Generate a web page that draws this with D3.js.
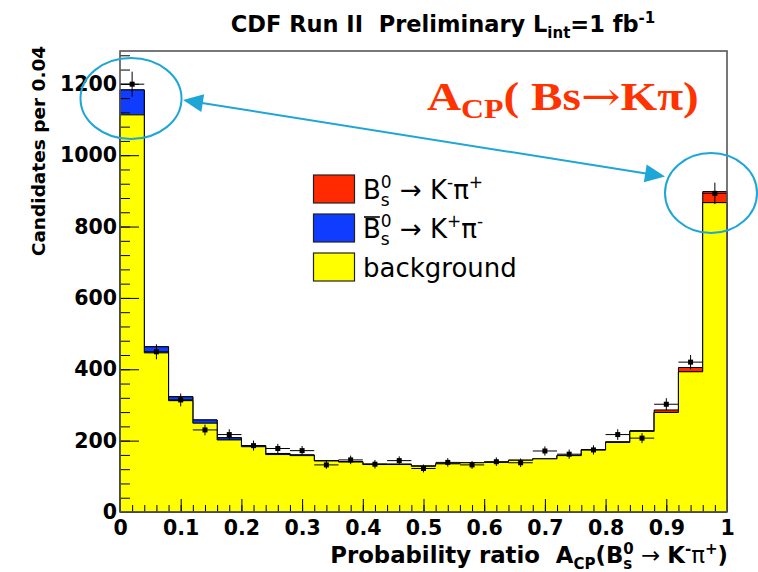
<!DOCTYPE html>
<html>
<head>
<meta charset="utf-8">
<script src="https://cdn.jsdelivr.net/npm/d3@7"></script>
<style>
  body { margin:0; background:#fff; }
  text { white-space: pre; }
</style>
</head>
<body>
<div id="canvas"></div>
<script>
// bin low edges, width 0.04
var binLow = [0,0.04,0.08,0.12,0.16,0.20,0.24,0.28,0.32,0.36,0.40,0.44,0.48,
              0.52,0.56,0.60,0.64,0.68,0.72,0.76,0.80,0.84,0.88,0.92,0.96];
var binWidth = 0.04;

// stacked components (counts per bin)
var background = [1113,446,312,249,202,183,161,158,143,140,133,133,128,
                  135,138,139,145,149,158,174,195,226,279,393,867];
var bsbarKpi   = [70,17,11,9,6,3,3,2,1,1,1,1,1,
                  0,0,0,0,0,0,0,0,0,0,0,0];
var bsKpi      = [0,0,0,0,0,0,0,0,0,0,0,0,0,
                  0,0,0,0,0,1,1,2,2,7,12,31];

// data points and errors
var dataVals = [1199,449,314,230,217,186,178,172,132,146,134,144,122,
                139,132,141,138,171,162,174,217,207,302,420,893];
var dataErr  = [35,21,18,15,15,14,13,13,11,12,12,12,11,
                12,11,12,12,13,13,13,15,14,17,20,30];

var xTicks = [0,0.1,0.2,0.3,0.4,0.5,0.6,0.7,0.8,0.9,1];
var yTicks = [0,200,400,600,800,1000,1200];

var W = 758, H = 572;
var X0 = 120, X1 = 727, Y0 = 512, Y1 = 51;

var svg = d3.select('#canvas').append('svg')
    .attr('width', W).attr('height', H)
    .style('font-family', '"DejaVu Sans", sans-serif');

var x = d3.scaleLinear().domain([0,1]).range([X0,X1]);
var y = d3.scaleLinear().domain([0,1292]).range([Y0,Y1]);

var cyan = '#1ea6d6';

// cumulative stacks, drawn largest first like ROOT THStack
var lvlBkg = background.slice();
var lvlBlue = background.map(function(v,i){ return v + bsbarKpi[i]; });
var lvlRed = lvlBlue.map(function(v,i){ return v + bsKpi[i]; });

function stepPts(vals){
    var pts = [[0,0]];
    vals.forEach(function(v,i){
        pts.push([binLow[i], v]);
        pts.push([binLow[i]+binWidth, v]);
    });
    pts.push([1,0]);
    return pts;
}

var line = d3.line().x(function(d){return x(d[0]);}).y(function(d){return y(d[1]);});

var hist = svg.append('g').attr('class','hist');
[[lvlRed,'#ff2a00'],[lvlBlue,'#0f3cff'],[lvlBkg,'#ffff00']].forEach(function(s){
    hist.append('path')
        .attr('d', line(stepPts(s[0])) + 'Z')
        .attr('fill', s[1])
        .attr('stroke', '#000')
        .attr('stroke-width', 1);
});

// data points
var pts = svg.append('g').attr('class','data');
dataVals.forEach(function(v,i){
    var cx = x(binLow[i] + binWidth/2);
    pts.append('line')
        .attr('x1', x(binLow[i])).attr('x2', x(binLow[i]+binWidth))
        .attr('y1', y(v)).attr('y2', y(v))
        .attr('stroke','#000').attr('stroke-width',1);
    pts.append('line')
        .attr('x1', cx).attr('x2', cx)
        .attr('y1', y(v-dataErr[i])).attr('y2', y(v+dataErr[i]))
        .attr('stroke','#000').attr('stroke-width',1);
    pts.append('rect')
        .attr('x', cx-2.5).attr('y', y(v)-2.5)
        .attr('width',5).attr('height',5)
        .attr('fill','#000');
});

// axes (ticks inside the frame, ROOT style)
var yMinor = d3.range(0, 1292, 40);
var xMinor = d3.range(0, 51).map(function(k){ return k*0.02; });

var yAxMinor = svg.append('g').attr('transform','translate('+X0+',0)')
    .call(d3.axisLeft(y).tickValues(yMinor).tickSize(-10).tickFormat(''));
var yAx = svg.append('g').attr('transform','translate('+X0+',0)')
    .call(d3.axisLeft(y).tickValues(yTicks).tickSize(-19).tickPadding(3)
          .tickFormat(d3.format('d')));
var xAxMinor = svg.append('g').attr('transform','translate(0,'+Y0+')')
    .call(d3.axisBottom(x).tickValues(xMinor).tickSize(-7).tickFormat(''));
var xAx = svg.append('g').attr('transform','translate(0,'+Y0+')')
    .call(d3.axisBottom(x).tickValues(xTicks).tickSize(-13).tickPadding(8)
          .tickFormat(d3.format('~g')));

[yAxMinor,yAx,xAxMinor,xAx].forEach(function(a){
    a.select('.domain').remove();
    a.selectAll('line').attr('stroke','#000');
});
[yAx,xAx].forEach(function(a){
    a.selectAll('text').style('font-size','20.5px').style('font-weight','bold')
        .style('font-family','"DejaVu Sans"').attr('fill','#000');
});

// frame
svg.append('rect')
    .attr('x', X0).attr('y', Y1)
    .attr('width', X1-X0).attr('height', Y0-Y1)
    .attr('fill','none').attr('stroke','#555').attr('stroke-width',1.6);

// rich text helper: one text element, tspans laid out left to right,
// stack=true shares x with previous piece (sub + sup)
function rich(g, x0, y0, pieces, anchor, base){
    var txt = g.append('text')
        .style('font-size', base.size+'px')
        .style('font-weight', base.weight||'normal')
        .style('font-family', base.family||'"DejaVu Sans"')
        .attr('fill', base.fill||'#000');
    var cx = 0, prevStart = 0, prevEnd = 0, nodes = [];
    pieces.forEach(function(p){
        var t = txt.append('tspan')
            .attr('y', y0 + (p.dy||0))
            .text(p.t);
        if (p.size) t.style('font-size', p.size+'px');
        if (p.weight) t.style('font-weight', p.weight);
        if (p.family) t.style('font-family', p.family);
        t.attr('x', 0);
        var w = t.node().getComputedTextLength();
        var start = p.stack ? prevStart : cx;
        var end = start + w;
        cx = p.stack ? Math.max(prevEnd, end) : end;
        prevStart = start; prevEnd = end;
        nodes.push({t:t, start:start, w:w});
    });
    var off = anchor==='end' ? x0 - cx : anchor==='middle' ? x0 - cx/2 : x0;
    nodes.forEach(function(n){ n.x = n.start + off; n.t.attr('x', n.x); });
    return nodes;
}

// title
rich(svg, 443, 32, [
    {t:'CDF Run II  Preliminary L'},
    {t:'int', size:15, dy:6},
    {t:'=1 fb'},
    {t:'-1', size:15, dy:-9}
], 'middle', {size:22.5, weight:'bold'});

// x axis title
rich(svg, 728, 563, [
    {t:'Probability ratio  A'},
    {t:'CP', size:15, dy:6},
    {t:'(B'},
    {t:'s', size:15, dy:6},
    {t:'0', size:15, dy:-9, stack:true},
    {t:' \u2192 ', weight:'normal'},
    {t:'K'},
    {t:'-', size:15, dy:-9},
    {t:'\u03c0', weight:'normal'},
    {t:'+', size:15, dy:-9},
    {t:')'}
], 'end', {size:22.8, weight:'bold'});

// y axis title
svg.append('text')
    .attr('transform','translate(45,151) rotate(-90)')
    .attr('text-anchor','middle')
    .style('font-size','18.5px').style('font-weight','bold')
    .text('Candidates per 0.04');

// legend
var legItems = [
    {fill:'#ff2a00', pieces:[{t:'B'},{t:'s',size:17,dy:7},{t:'0',size:17,dy:-11,stack:true},
        {t:' \u2192 K'},{t:'-',size:17,dy:-11},{t:'\u03c0'},{t:'+',size:17,dy:-11}]},
    {fill:'#0f3cff', bar:true, pieces:[{t:'B'},{t:'s',size:17,dy:7},{t:'0',size:17,dy:-11,stack:true},
        {t:' \u2192 K'},{t:'+',size:17,dy:-11},{t:'\u03c0'},{t:'-',size:17,dy:-11}]},
    {fill:'#ffff00', pieces:[{t:'background'}]}
];
var leg = svg.append('g').attr('class','legend');
legItems.forEach(function(it, i){
    var top = 175 + i*39;
    leg.append('rect')
        .attr('x', 313.5).attr('y', top)
        .attr('width', 41).attr('height', 28)
        .attr('fill', it.fill).attr('stroke','#222').attr('stroke-width',1.2);
    var nodes = rich(leg, 363, top + 24, it.pieces, 'start', {size:26});
    if (it.bar) {
        leg.append('line')
            .attr('x1', nodes[0].x+1).attr('x2', nodes[0].x + nodes[0].w - 1)
            .attr('y1', top + 3).attr('y2', top + 3)
            .attr('stroke','#000').attr('stroke-width',1.6);
    }
});

// red annotation
var ann = svg.append('g').attr('transform','translate(427,0) scale(1.18,1)');
rich(ann, 0, 110, [
    {t:'A'},
    {t:'CP', size:27, dy:8},
    {t:'( Bs'},
    {t:'\u2192', family:'"DejaVu Serif"', weight:'normal'},
    {t:'K\u03c0)'}
], 'start', {size:40, weight:'bold', family:'"Liberation Serif", serif', fill:'#ff3300'});

// cyan ellipses and double arrow
svg.append('ellipse').attr('cx',131).attr('cy',98.5).attr('rx',50.5).attr('ry',40.5)
    .attr('fill','none').attr('stroke',cyan).attr('stroke-width',2);
svg.append('ellipse').attr('cx',711).attr('cy',193).attr('rx',46).attr('ry',40)
    .attr('fill','none').attr('stroke',cyan).attr('stroke-width',2);

var a = [183,100], b = [665,176.5];
var ang = Math.atan2(b[1]-a[1], b[0]-a[0]);
var hl = 20, hw = 9;
svg.append('line')
    .attr('x1', a[0] + Math.cos(ang)*hl*0.8).attr('y1', a[1] + Math.sin(ang)*hl*0.8)
    .attr('x2', b[0] - Math.cos(ang)*hl*0.8).attr('y2', b[1] - Math.sin(ang)*hl*0.8)
    .attr('stroke',cyan).attr('stroke-width',2);
function head(tip, dir){
    var bx = tip[0] + Math.cos(ang)*hl*dir, by = tip[1] + Math.sin(ang)*hl*dir;
    var px = -Math.sin(ang)*hw, py = Math.cos(ang)*hw;
    svg.append('path')
        .attr('d','M'+tip[0]+','+tip[1]+'L'+(bx+px)+','+(by+py)+'L'+(bx-px)+','+(by-py)+'Z')
        .attr('fill',cyan);
}
head(a, 1);
head(b, -1);
</script>
</body>
</html>
